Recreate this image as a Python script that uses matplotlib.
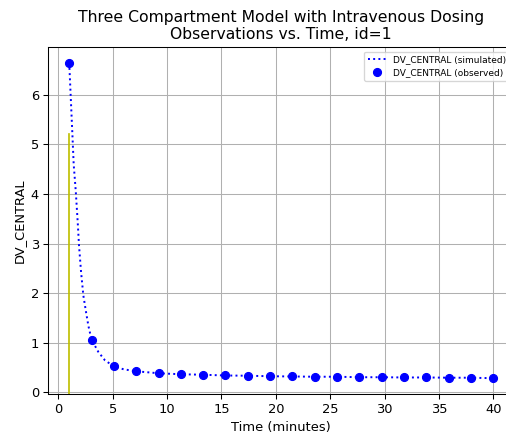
import matplotlib
matplotlib.use("Agg")
import matplotlib.pyplot as plt

# observed samples (time in minutes, central compartment concentration)
obs_time = [1.0, 3.05, 5.11, 7.16, 9.21, 11.26, 13.32, 15.37, 17.42, 19.47,
            21.53, 23.58, 25.63, 27.68, 29.74, 31.79, 33.84, 35.89, 37.95, 40.0]
obs_dv = [6.65, 1.06, 0.52, 0.42, 0.38, 0.36, 0.35, 0.335, 0.33, 0.32,
          0.315, 0.31, 0.31, 0.30, 0.30, 0.295, 0.295, 0.29, 0.29, 0.28]

# simulated profile
sim_time = [1.0, 1.14, 1.29, 1.41, 1.6, 1.78, 1.9, 2.09, 2.3, 2.55, 2.76, 3.05,
            3.68, 4.29, 5.11, 6.0, 7.16, 8.2, 9.21, 11.26, 13.32, 15.37, 17.42,
            19.47, 21.53, 23.58, 25.63, 27.68, 29.74, 31.79, 33.84, 35.89,
            37.95, 40.0]
sim_dv = [6.65, 5.95, 5.21, 4.60, 4.06, 3.43, 2.96, 2.42, 1.95, 1.61, 1.34, 1.06,
          0.81, 0.64, 0.52, 0.46, 0.42, 0.40, 0.38, 0.36, 0.35, 0.335, 0.33,
          0.32, 0.315, 0.31, 0.31, 0.30, 0.30, 0.295, 0.295, 0.29, 0.29, 0.28]

dose_time = 1.0

dpi = 94
fig = plt.figure(figsize=(506 / dpi, 434 / dpi), dpi=dpi)
ax = fig.add_axes([0.0949, 0.0922, 0.922, 0.7995])

ax.plot(sim_time, sim_dv, "b:", label="DV_CENTRAL (simulated)")
ax.plot(obs_time, obs_dv, "bo", label="DV_CENTRAL (observed)")
# dose marker
ax.axvline(dose_time, ymax=0.75, color="y", lw=1.3)

ax.set_title("Three Compartment Model with Intravenous Dosing\nObservations vs. Time, id=1")
ax.set_xlabel("Time (minutes)")
ax.set_ylabel("DV_CENTRAL")
ax.grid(True)
ax.legend(loc="upper right", fontsize=6.9)

fig.savefig("out.png", dpi=dpi)
